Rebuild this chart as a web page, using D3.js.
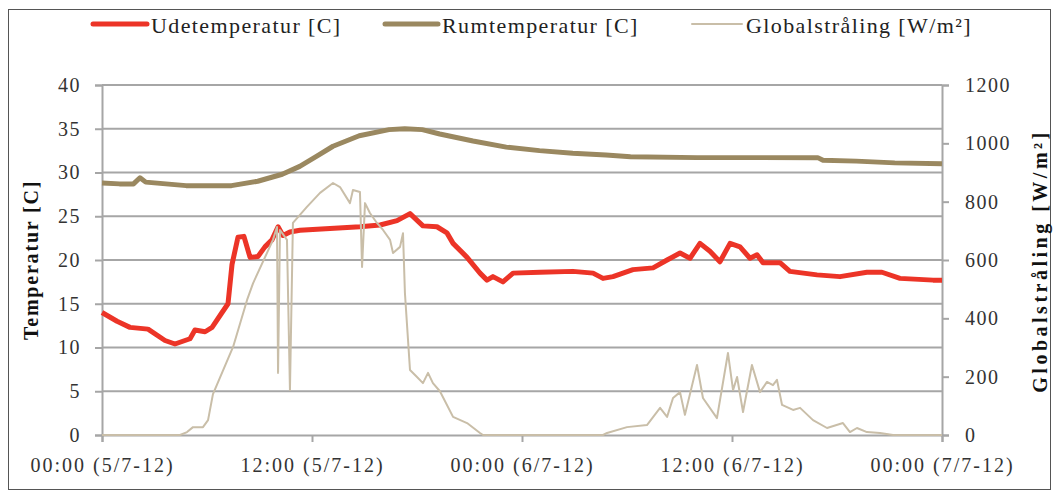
<!DOCTYPE html>
<html><head><meta charset="utf-8">
<script src="https://cdn.jsdelivr.net/npm/d3@7"></script>
<style>
html,body{margin:0;padding:0;background:#fff;}
svg text{font-family:"Liberation Serif","Times New Roman",serif;}
</style></head>
<body><svg id="chart" width="1060" height="495"></svg>
<script>
// time in hours from 00:00 5/7-12
const tickHours = [0, 12, 24, 36, 48];
const tickLabels = ["00:00 (5/7-12)", "12:00 (5/7-12)", "00:00 (6/7-12)", "12:00 (6/7-12)", "00:00 (7/7-12)"];
const tempTicks = [0, 5, 10, 15, 20, 25, 30, 35, 40];
const radTicks = [0, 200, 400, 600, 800, 1000, 1200];
const seriesNames = ["Udetemperatur [C]", "Rumtemperatur [C]", "Globalstråling [W/m²]"];

const udeTemp = [
 [0,14.0],[0.86,13.0],[1.6,12.3],[2.63,12.1],[3.6,10.8],[4.17,10.4],[4.74,10.8],[5.03,11.0],
 [5.31,12.0],[5.89,11.8],[6.29,12.3],[6.86,14.0],[7.2,15.0],[7.43,19.5],[7.77,22.6],[8.11,22.7],
 [8.46,20.3],[8.91,20.4],[9.31,21.5],[9.71,22.3],[10.06,23.8],[10.34,22.8],[10.74,23.2],[11.31,23.4],
 [13.03,23.6],[14.74,23.8],[15.89,24.0],[16.86,24.5],[17.6,25.3],[18.34,23.9],[19.14,23.8],[19.71,23.1],
 [20.06,21.9],[20.86,20.3],[21.6,18.5],[22.0,17.7],[22.34,18.1],[22.91,17.5],[23.49,18.5],[25.03,18.6],
 [26.91,18.7],[28.06,18.5],[28.63,17.9],[29.2,18.1],[30.34,18.9],[31.49,19.1],[32.29,20.0],[33.03,20.8],
 [33.6,20.2],[34.17,21.9],[34.74,21.0],[35.31,19.8],[35.89,21.9],[36.46,21.5],[37.03,20.2],[37.43,20.6],
 [37.77,19.7],[38.74,19.7],[39.31,18.7],[40.86,18.3],[42.17,18.1],[43.71,18.6],[44.57,18.6],[45.6,17.9],
 [47.49,17.7],[48,17.7]
];
const rumTemp = [
 [0,28.8],[1.0,28.7],[1.8,28.7],[2.17,29.4],[2.5,28.9],[4.8,28.5],[7.4,28.5],[8.9,29.0],[10.3,29.8],
 [11.3,30.7],[12.3,31.9],[13.2,33.0],[14.7,34.2],[16.4,34.9],[17.3,35.0],[18.3,34.9],[19.3,34.4],
 [21.2,33.6],[23.1,32.9],[25.0,32.5],[26.9,32.2],[28.8,32.0],[30.2,31.8],[34.0,31.7],[40.9,31.7],
 [41.2,31.4],[43.1,31.3],[45.3,31.1],[48,31.0]
];
const globalRad = [
 [0,0],[4.46,0],[4.86,10],[5.2,27],[5.77,27],[6.06,51],[6.34,140],[7.49,302],[8.29,463],[8.63,520],
 [9.77,669],[10.0,713],[10.06,213],[10.17,703],[10.57,669],[10.74,154],[10.91,727],[11.71,782],
 [12.46,830],[13.2,864],[13.6,850],[14.17,795],[14.34,840],[14.74,833],[14.86,576],[15.03,795],
 [15.31,761],[15.71,727],[16.06,703],[16.46,669],[16.63,624],[17.03,645],[17.2,692],[17.31,487],
 [17.6,223],[18.0,199],[18.34,178],[18.63,213],[18.91,178],[19.31,150],[20.06,62],[20.86,41],
 [21.6,7],[21.77,0],[28.63,0],[28.86,7],[30.0,27],[31.14,34],[31.89,93],[32.29,62],[32.63,127],
 [33.03,147],[33.31,69],[34.0,240],[34.34,127],[35.14,58],[35.77,281],[36.06,154],[36.29,199],
 [36.63,79],[37.14,240],[37.6,147],[38.0,182],[38.34,171],[38.57,189],[38.86,103],[39.49,86],
 [39.89,93],[40.63,51],[41.43,24],[42.34,41],[42.74,10],[43.14,24],[43.71,10],[44.46,7],[45.2,0],[48,0]
];

const colors = {ude:"#ec3427", rum:"#9a8860", rad:"#c9bea8", grid:"#a6a6a6", axis:"#a6a6a6", text:"#333"};

const svg = d3.select("#chart");
svg.append("rect").attr("x",8.5).attr("y",9.5).attr("width",1042).attr("height",480)
  .attr("fill","none").attr("stroke","#555").attr("stroke-width",1);

const pLeft = 102, pRight = 942, pTop = 85, pBottom = 435;
const x = d3.scaleLinear().domain([0,48]).range([pLeft,pRight]);
const yT = d3.scaleLinear().domain([0,40]).range([pBottom,pTop]);
const yR = d3.scaleLinear().domain([0,1200]).range([pBottom,pTop]);

// gridlines
svg.append("g").selectAll("line").data(tempTicks.filter(d=>d>0)).join("line")
  .attr("x1",pLeft).attr("x2",pRight).attr("y1",d=>yT(d)).attr("y2",d=>yT(d))
  .attr("stroke",colors.grid).attr("stroke-width",2);

// axes
const gL = svg.append("g").attr("transform",`translate(${pLeft},0)`)
  .call(d3.axisLeft(yT).tickValues(tempTicks).tickSize(7).tickPadding(14));
const gR = svg.append("g").attr("transform",`translate(${pRight},0)`)
  .call(d3.axisRight(yR).tickValues(radTicks).tickFormat(d3.format("d")).tickSize(7).tickPadding(16));
const gX = svg.append("g").attr("transform",`translate(0,${pBottom})`)
  .call(d3.axisBottom(x).tickValues(tickHours).tickFormat((d,i)=>tickLabels[i]).tickSize(7).tickPadding(14));
[gL,gR,gX].forEach(g=>{
  g.select(".domain").attr("stroke",colors.axis).attr("stroke-width",2);
  g.selectAll(".tick line").attr("stroke",colors.axis).attr("stroke-width",2);
  g.selectAll(".tick text").attr("font-family","Liberation Serif").attr("font-size",20)
    .attr("letter-spacing",1.5).attr("fill",colors.text);
});
gX.selectAll(".tick text").attr("dy","0.78em").attr("letter-spacing",2);

// lines
const lineT = d3.line().x(d=>x(d[0])).y(d=>yT(d[1]));
const lineR = d3.line().x(d=>x(d[0])).y(d=>yR(d[1]));
svg.append("path").datum(udeTemp).attr("d",lineT).attr("fill","none")
  .attr("stroke",colors.ude).attr("stroke-width",5).attr("stroke-linejoin","round");
svg.append("path").datum(rumTemp).attr("d",lineT).attr("fill","none")
  .attr("stroke",colors.rum).attr("stroke-width",5).attr("stroke-linejoin","round");
svg.append("path").datum(globalRad).attr("d",lineR).attr("fill","none")
  .attr("stroke",colors.rad).attr("stroke-width",2).attr("stroke-linejoin","round");

// axis titles
svg.append("text").attr("transform","translate(38,260) rotate(-90)").attr("text-anchor","middle")
  .attr("font-size",20).attr("font-weight","bold").attr("letter-spacing",1.8).attr("fill","#111")
  .text("Temperatur [C]");
svg.append("text").attr("transform","translate(1047,261) rotate(-90)").attr("text-anchor","middle")
  .attr("font-size",20).attr("font-weight","bold").attr("letter-spacing",3.5).attr("fill","#111")
  .text("Globalstråling [W/m²]");

// legend
const legend = [
  {name:seriesNames[0], color:colors.ude, w:5, x1:93, x2:147},
  {name:seriesNames[1], color:colors.rum, w:5, x1:385, x2:438},
  {name:seriesNames[2], color:colors.rad, w:2, x1:692, x2:742}
];
const lg = svg.append("g");
legend.forEach(l=>{
  lg.append("line").attr("x1",l.x1).attr("x2",l.x2).attr("y1",24).attr("y2",24)
    .attr("stroke",l.color).attr("stroke-width",l.w).attr("stroke-linecap","round");
  lg.append("text").attr("x",l.x2+4).attr("y",33).attr("font-size",22).attr("letter-spacing",1.4)
    .attr("fill","#222").text(l.name);
});
</script></body></html>
